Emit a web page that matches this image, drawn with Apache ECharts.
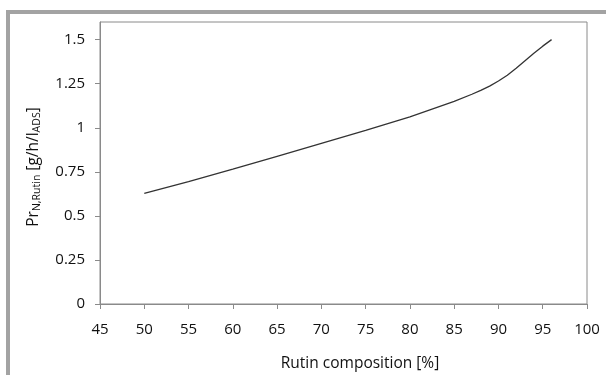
<!DOCTYPE html>
<html>
<head>
<meta charset="utf-8">
<script src="https://cdn.jsdelivr.net/npm/echarts@6/dist/echarts.min.js"></script>
<style>
  html, body { margin: 0; padding: 0; background: #fff; }
  #chart { position: absolute; left: 0; top: 0; width: 606px; height: 375px; }
  #frame {
    position: absolute; left: 6px; top: 10px; width: 600px; height: 365px;
    border-top: 4px solid #a3a3a3; border-left: 4px solid #a3a3a3;
    box-sizing: border-box; pointer-events: none;
  }
</style>
</head>
<body>
<div id="chart"></div>
<div id="frame"></div>
<script>
// Rutin composition [%] and productivity values
const rutinComposition = [50, 55, 60, 65, 70, 75, 80, 85, 87, 88, 89, 90, 91, 92, 93, 94, 95, 96];
const productivity = [0.627, 0.694, 0.765, 0.838, 0.912, 0.985, 1.062, 1.150, 1.190, 1.212, 1.236, 1.265, 1.298, 1.337, 1.380, 1.423, 1.463, 1.5];

// Axis ticks
const yTicks = [0, 0.25, 0.5, 0.75, 1, 1.25, 1.5];
const xMin = 45, xMax = 100, xStep = 5;

const axisGray = '#8a8a8a';
const textColor = '#111';
const font = '"Open Sans", "Liberation Sans", sans-serif';

const chart = echarts.init(document.getElementById('chart'), null, { renderer: 'canvas' });
chart.setOption({
  animation: false,
  backgroundColor: '#fff',
  grid: {
    left: 100, top: 22, right: 19, bottom: 71,
    show: true, borderColor: axisGray, borderWidth: 1, backgroundColor: 'transparent'
  },
  title: {
    text: 'Rutin composition [%]',
    left: 355, top: 351, textAlign: 'center',
    textStyle: { fontFamily: font, fontSize: 15.5, fontWeight: 'normal', color: textColor }
  },
  xAxis: {
    type: 'value',
    min: xMin, max: xMax, interval: xStep,
    axisLine: { show: true, lineStyle: { color: axisGray } },
    axisTick: { show: true, length: 5, lineStyle: { color: axisGray } },
    axisLabel: { fontFamily: font, fontSize: 15, color: textColor, margin: 18 },
    splitLine: { show: false }
  },
  yAxis: {
    type: 'value',
    min: 0, max: 1.6,
    name: '{m|Pr}{s|N,Rutin}{m| [g/h/l}{s|ADS}{m|]}',
    nameLocation: 'middle',
    nameGap: 57,
    nameRotate: 90,
    nameTextStyle: {
      padding: [0, 0, 0, -8],
      rich: {
        m: { fontFamily: font, fontSize: 15.5, color: textColor },
        s: { fontFamily: font, fontSize: 10.5, color: textColor, verticalAlign: 'bottom', padding: [7, 0, 0, 0] }
      }
    },
    axisLine: { show: true, lineStyle: { color: axisGray } },
    axisTick: { show: true, length: 5, customValues: yTicks, lineStyle: { color: axisGray } },
    axisLabel: { fontFamily: font, fontSize: 15, color: textColor, margin: 15, customValues: yTicks },
    splitLine: { show: false }
  },
  series: [{
    type: 'line',
    data: rutinComposition.map((x, i) => [x, productivity[i]]),
    showSymbol: false,
    smooth: false,
    lineStyle: { color: '#333', width: 1.3 }
  }]
});
</script>
</body>
</html>
